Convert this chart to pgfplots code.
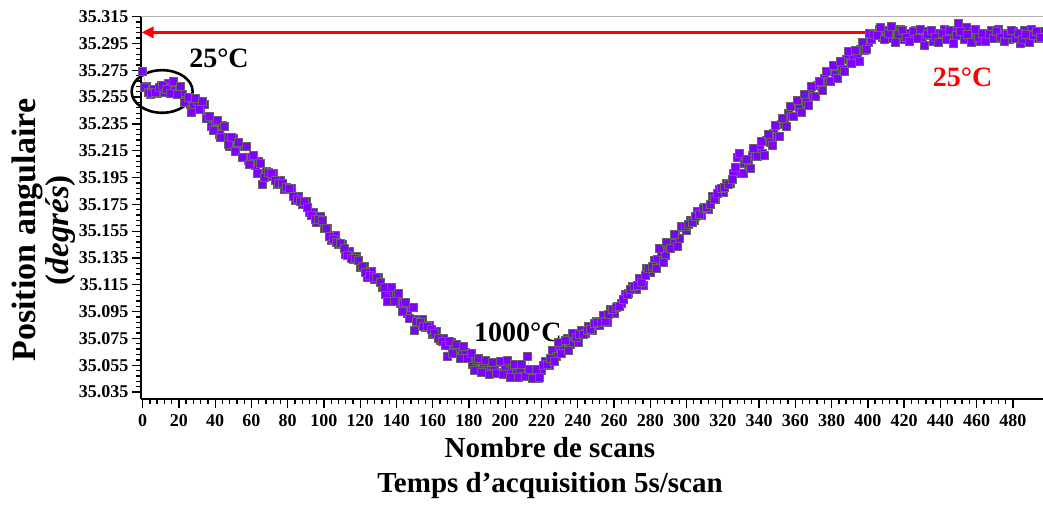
\documentclass[border=0pt]{standalone}
\usepackage{pgfplots}
\pgfplotsset{compat=1.18}
\usepackage{pgfplotstable}
\usepackage{fontspec}
\setmainfont{Liberation Serif}
\usetikzlibrary{arrows.meta}
\definecolor{ptviolet}{RGB}{128,0,255}

% even scans
\pgfplotstableread{
x y
0 35.274
2 35.263
4 35.257
6 35.261
8 35.258
10 35.264
12 35.259
14 35.265
16 35.262
18 35.260
20 35.262
22 35.257
24 35.253
26 35.250
28 35.248
30 35.252
32 35.246
34 35.250
36 35.240
38 35.233
40 35.237
42 35.227
44 35.234
46 35.225
48 35.218
50 35.224
52 35.218
54 35.218
56 35.218
58 35.208
60 35.210
62 35.204
64 35.207
66 35.190
68 35.200
70 35.196
72 35.198
74 35.190
76 35.193
78 35.186
80 35.186
82 35.187
84 35.178
86 35.181
88 35.175
90 35.177
92 35.169
94 35.169
96 35.162
98 35.166
100 35.157
102 35.157
104 35.148
106 35.152
108 35.145
110 35.145
112 35.138
114 35.140
116 35.134
118 35.136
120 35.128
122 35.129
124 35.121
126 35.125
128 35.119
130 35.121
132 35.113
134 35.108
136 35.112
138 35.107
140 35.108
142 35.101
144 35.101
146 35.094
148 35.098
150 35.081
152 35.089
154 35.089
156 35.083
158 35.085
160 35.078
162 35.080
164 35.074
166 35.075
168 35.062
170 35.072
172 35.067
174 35.068
176 35.063
178 35.065
180 35.060
182 35.056
184 35.059
186 35.052
188 35.057
190 35.051
192 35.055
194 35.052
196 35.057
198 35.050
200 35.054
202 35.051
204 35.055
206 35.049
208 35.051
210 35.047
212 35.062
214 35.050
216 35.046
218 35.045
220 35.051
222 35.058
224 35.055
226 35.066
228 35.062
230 35.070
232 35.067
234 35.075
236 35.071
238 35.077
240 35.072
242 35.081
244 35.079
246 35.084
248 35.081
250 35.088
252 35.085
254 35.092
256 35.087
258 35.097
260 35.094
262 35.099
264 35.101
266 35.108
268 35.109
270 35.114
272 35.112
274 35.120
276 35.115
278 35.127
280 35.124
282 35.133
284 35.134
286 35.139
288 35.137
290 35.145
292 35.147
294 35.152
296 35.150
298 35.158
300 35.156
302 35.163
304 35.163
306 35.170
308 35.167
310 35.173
312 35.171
314 35.181
316 35.179
318 35.186
320 35.184
322 35.191
324 35.191
326 35.198
328 35.210
330 35.198
332 35.206
334 35.205
336 35.212
338 35.211
340 35.217
342 35.213
344 35.223
346 35.221
348 35.228
350 35.226
352 35.235
354 35.235
356 35.243
358 35.241
360 35.248
362 35.247
364 35.253
366 35.251
368 35.257
370 35.256
372 35.264
374 35.263
376 35.269
378 35.267
380 35.274
382 35.272
384 35.278
386 35.276
388 35.283
390 35.281
392 35.286
394 35.285
396 35.291
398 35.290
400 35.296
402 35.298
404 35.303
406 35.306
408 35.300
410 35.305
412 35.299
414 35.304
416 35.301
418 35.306
420 35.298
422 35.303
424 35.300
426 35.305
428 35.302
430 35.299
432 35.304
434 35.301
436 35.297
438 35.303
440 35.300
442 35.306
444 35.302
446 35.299
448 35.305
450 35.310
452 35.303
454 35.307
456 35.300
458 35.304
460 35.301
462 35.297
464 35.303
466 35.300
468 35.305
470 35.301
472 35.306
474 35.299
476 35.303
478 35.298
480 35.304
482 35.301
484 35.295
486 35.305
488 35.300
490 35.306
492 35.302
494 35.299
496 35.304
}\scanseven

% odd scans
\pgfplotstableread{
x y
1 35.262
3 35.259
5 35.258
7 35.259
9 35.262
11 35.264
13 35.261
15 35.258
17 35.267
19 35.257
21 35.263
23 35.251
25 35.255
27 35.244
29 35.254
31 35.246
33 35.252
35 35.239
37 35.241
39 35.230
41 35.238
43 35.225
45 35.233
47 35.220
49 35.225
51 35.215
53 35.221
55 35.210
57 35.218
59 35.205
61 35.212
63 35.198
65 35.206
67 35.195
69 35.199
71 35.198
73 35.193
75 35.191
77 35.191
79 35.188
81 35.187
83 35.181
85 35.179
87 35.177
89 35.177
91 35.173
93 35.167
95 35.164
97 35.164
99 35.163
101 35.157
103 35.151
105 35.149
107 35.147
109 35.146
111 35.142
113 35.137
115 35.135
117 35.135
119 35.133
121 35.129
123 35.124
125 35.122
127 35.121
129 35.121
131 35.117
133 35.113
135 35.103
137 35.113
139 35.103
141 35.109
143 35.095
145 35.102
147 35.090
149 35.098
151 35.088
153 35.087
155 35.084
157 35.084
159 35.082
161 35.079
163 35.075
165 35.073
167 35.070
169 35.073
171 35.064
173 35.071
175 35.060
177 35.069
179 35.060
181 35.064
183 35.051
185 35.060
187 35.050
189 35.059
191 35.048
193 35.057
195 35.049
197 35.058
199 35.048
201 35.059
203 35.046
205 35.056
207 35.046
209 35.056
211 35.047
213 35.052
215 35.045
217 35.052
219 35.046
221 35.055
223 35.056
225 35.060
227 35.058
229 35.072
231 35.064
233 35.074
235 35.066
237 35.079
239 35.076
241 35.078
243 35.078
245 35.081
247 35.082
249 35.086
251 35.087
253 35.087
255 35.088
257 35.093
259 35.097
261 35.098
263 35.099
265 35.104
267 35.108
269 35.112
271 35.114
273 35.115
275 35.117
277 35.122
279 35.127
281 35.129
283 35.127
285 35.142
287 35.132
289 35.147
291 35.142
293 35.153
295 35.144
297 35.159
299 35.159
301 35.160
303 35.162
305 35.166
307 35.168
309 35.172
311 35.173
313 35.175
315 35.179
317 35.183
319 35.187
321 35.188
323 35.190
325 35.194
327 35.203
329 35.213
331 35.198
333 35.209
335 35.202
337 35.217
339 35.211
341 35.222
343 35.212
345 35.227
347 35.219
349 35.234
351 35.226
353 35.239
355 35.233
357 35.248
359 35.241
361 35.253
363 35.244
365 35.257
367 35.249
369 35.263
371 35.256
373 35.267
375 35.260
377 35.274
379 35.267
381 35.279
383 35.269
385 35.282
387 35.274
389 35.289
391 35.280
393 35.290
395 35.282
397 35.296
399 35.291
401 35.303
403 35.302
405 35.301
407 35.307
409 35.298
411 35.303
413 35.308
415 35.296
417 35.302
419 35.305
421 35.300
423 35.297
425 35.304
427 35.299
429 35.306
431 35.294
433 35.302
435 35.305
437 35.300
439 35.296
441 35.303
443 35.298
445 35.305
447 35.295
449 35.301
451 35.304
453 35.298
455 35.302
457 35.296
459 35.306
461 35.300
463 35.303
465 35.297
467 35.302
469 35.299
471 35.304
473 35.300
475 35.297
477 35.302
479 35.305
481 35.299
483 35.303
485 35.298
487 35.302
489 35.296
491 35.301
493 35.304
495 35.300
}\scansodd

\begin{document}
\begin{tikzpicture}
\begin{axis}[
  width=902pt, height=383pt, scale only axis,
  xmin=-0.9, xmax=496.6, ymin=35.0298, ymax=35.3155,
  axis x line*=bottom, axis y line*=left,
  axis line style={line width=1.6pt, black},
  tick align=outside,
  major tick length=9pt, minor tick length=5pt,
  every tick/.style={black, line width=1.3pt},
  xtick={0,20,...,480},
  minor x tick num=4,
  ytick={35.035,35.055,35.075,35.095,35.115,35.135,35.155,35.175,35.195,35.215,35.235,35.255,35.275,35.295,35.315},
  minor y tick num=4,
  scaled y ticks=false,
  /pgf/number format/assume math mode=true,
  ticklabel style={font=\fontsize{18}{18}\selectfont\bfseries},
  x tick label style={yshift=-3pt},
  y tick label style={/pgf/number format/fixed, /pgf/number format/fixed zerofill, /pgf/number format/precision=3},
  clip=false,
]
\draw[gray!60, line width=1pt] (rel axis cs:0,1) -- (rel axis cs:1,1);
\addplot[gray!60, line width=0.5pt, mark=square*, mark size=4pt,
  mark options={fill=ptviolet, draw=black!60, line width=0.45pt}] table[x=x, y=y] {\scanseven};
\addplot[only marks, mark=square*, mark size=4pt,
  mark options={fill=ptviolet, draw=black!60, line width=0.45pt}] table[x=x, y=y] {\scansodd};
\addplot[red, line width=3.4pt, -{Triangle[length=12pt,width=11pt]}] coordinates {(496.6,35.3033) (-0.6,35.3033)};
\draw[black, line width=2.6pt] (axis cs:10.76,35.2592) ellipse [x radius=30.5pt, y radius=21.3pt];
\node[anchor=base, font=\fontsize{28}{28}\selectfont\bfseries] at (axis cs:42.1,35.2773) {25°C};
\node[anchor=base, font=\fontsize{28}{28}\selectfont\bfseries] at (axis cs:207,35.073) {1000°C};
\node[anchor=base, red, font=\fontsize{28}{28}\selectfont\bfseries] at (axis cs:452.2,35.2626) {25°C};
\node[anchor=base, font=\fontsize{29}{29}\selectfont\bfseries] at ([yshift=-58.7pt]axis description cs:0.4534,0) {Nombre de scans};
\node[anchor=base, font=\fontsize{29}{29}\selectfont\bfseries] at ([yshift=-93.7pt]axis description cs:0.4534,0) {Temps d’acquisition 5s/scan};
\node[anchor=base, rotate=90, font=\fontsize{34}{34}\selectfont\bfseries] at ([xshift=-105pt]axis description cs:0,0.441) {Position angulaire};
\node[anchor=base, rotate=90, font=\fontsize{33}{33}\selectfont\bfseries] at ([xshift=-72pt]axis description cs:0,0.441) {(\textit{degrés})};
\end{axis}
\pgfresetboundingbox
\path[use as bounding box] (-141pt,-110pt) rectangle (902pt,399pt);
\end{tikzpicture}
\end{document}
